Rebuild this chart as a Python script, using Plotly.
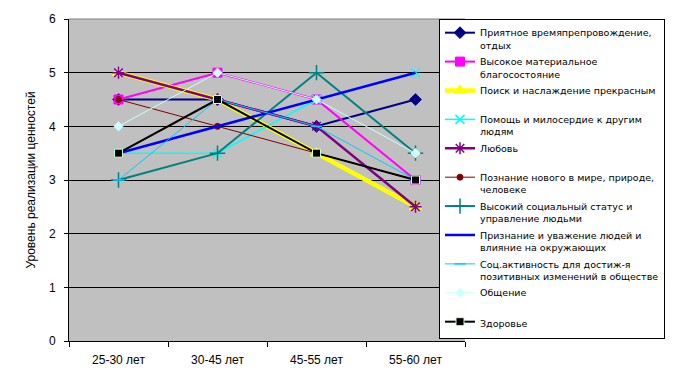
import plotly.graph_objects as go

categories = ["25-30 лет", "30-45 лет", "45-55 лет", "55-60 лет"]

series_names = [
    "Приятное времяпрепровождение,<br>отдых",
    "Высокое материальное<br>благосостояние",
    "Поиск и наслаждение прекрасным<br> ",
    "Помощь и милосердие к другим<br>людям",
    "Любовь<br> ",
    "Познание нового в мире, природе,<br>человеке",
    "Высокий социальный статус и<br>управление людьми",
    "Признание и уважение людей и<br>влияние на окружающих",
    "Соц.активность для достиж-я<br>позитивных изменений в обществе",
    "Общение<br> ",
    "Здоровье",
]

v_otdyh = [4.5, 4.5, 4.0, 4.5]
v_mater = [4.5, 5.0, 4.5, 3.0]
v_prekr = [5.0, 4.5, 3.5, 2.5]
v_pomosh = [3.5, 3.5, 4.5, 5.0]
v_lubov = [5.0, 4.5, 4.0, 2.5]
v_poznan = [4.5, 4.0, 3.5, 3.0]
v_status = [3.0, 3.5, 5.0, 3.5]
v_priznan = [3.5, 4.0, 4.5, 5.0]
v_socakt = [3.0, 4.5, 4.0, 3.0]
v_obshen = [4.0, 5.0, 4.5, 3.5]
v_zdorov = [3.5, 4.5, 3.5, 3.0]

values = [v_otdyh, v_mater, v_prekr, v_pomosh, v_lubov, v_poznan,
          v_status, v_priznan, v_socakt, v_obshen, v_zdorov]

styles = [
    dict(color="#000080", width=2, symbol="diamond", msize=9, mline=None),
    dict(color="#FF00FF", width=2, symbol="square", msize=9, mline=None),
    dict(color="#FFFF00", width=4.5, symbol="triangle-up", msize=11, mline=None),
    dict(color="#00FFFF", width=1.5, symbol="x-thin-open", msize=9, mline=None),
    dict(color="#800080", width=2.5, symbol="asterisk-open", msize=10, mline=None),
    dict(color="#800000", width=1, symbol="circle", msize=6, mline=None),
    dict(color="#008080", width=2, symbol="cross-thin-open", msize=11, mline=None),
    dict(color="#0000FF", width=2.5, symbol=None, msize=0, mline=None),
    dict(color="#00CCFF", width=1, symbol="line-ew-open", msize=8, mline=None),
    dict(color="#CCFFFF", width=1, symbol="diamond", msize=7, mline=None),
    dict(color="#000000", width=2, symbol="square", msize=8, mline="#CCFFCC"),
]

fig = go.Figure()
for i, (name, vals, st) in enumerate(zip(series_names, values, styles)):
    if st["symbol"] is None:
        mode = "lines"
        marker = None
    else:
        mode = "lines+markers"
        marker = dict(symbol=st["symbol"], size=st["msize"], color=st["color"],
                      line=dict(color=st["mline"] if st["mline"] else st["color"],
                                width=1 if st["mline"] or not st["symbol"].endswith("open") else 1.5))
    fig.add_trace(go.Scatter(x=categories, y=vals, name=name, mode=mode,
                             legendgroup=f"g{i}",
                             line=dict(color=st["color"], width=st["width"]),
                             marker=marker))

# page has an 8px body margin, so the figure is 8px smaller and margins shifted
fig.update_layout(
    width=667, height=373,
    margin=dict(l=61, r=209, t=11, b=40),
    paper_bgcolor="white",
    plot_bgcolor="#C0C0C0",
    font=dict(family="Liberation Sans, Arial, sans-serif", size=12, color="black"),
    showlegend=True,
    legend=dict(
        x=0.932, y=1.0, xanchor="left", yanchor="top",
        bgcolor="white", bordercolor="black", borderwidth=1,
        font=dict(family="DejaVu Sans, sans-serif", size=9.5, color="black"),
        valign="top", tracegroupgap=1.2, traceorder="grouped",
        itemwidth=30,
    ),
    xaxis=dict(
        type="category", range=[-0.5, 3.5], showgrid=False, showline=True, linecolor="black",
        ticks="outside", tickson="boundaries", ticklen=5, tickcolor="black",
        tickfont=dict(size=12), zeroline=False, automargin=False,
        ticklabelstandoff=8,
    ),
    yaxis=dict(
        range=[0, 6], tickvals=[0, 1, 2, 3, 4, 5, 6], showgrid=True,
        gridcolor="black", gridwidth=1, showline=True, linecolor="black",
        ticks="outside", ticklen=4, tickcolor="black", zeroline=False,
        title=dict(text="Уровень реализации ценностей", font=dict(size=12), standoff=10),
        tickfont=dict(size=12), automargin=False, ticklabelstandoff=6,
    ),
)
fig.add_shape(type="line", xref="paper", yref="paper", x0=0, x1=1, y0=1, y1=1,
              line=dict(color="#808080", width=1))

fig.write_html("out.html")
